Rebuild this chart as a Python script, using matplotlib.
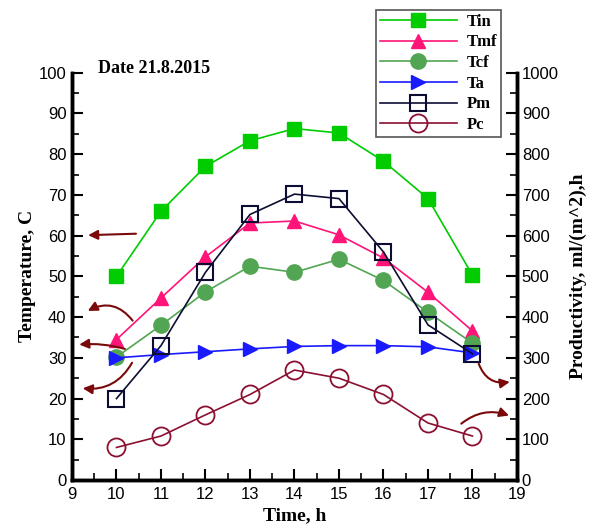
import matplotlib
matplotlib.use("Agg")
import matplotlib.pyplot as plt
from matplotlib.ticker import MultipleLocator

# ----- Daten -----
hours = [10, 11, 12, 13, 14, 15, 16, 17, 18]
t_in = [50, 66, 77, 83.3, 86.3, 85.2, 78.3, 69.1, 50.3]
t_mf = [34.5, 44.7, 54.8, 63.1, 63.6, 60.2, 54.5, 46.1, 36.6]
t_cf = [30.2, 38, 46.2, 52.5, 51, 54.2, 49, 41.2, 33.6]
t_a = [30, 30.8, 31.5, 32.2, 32.8, 33, 33, 32.7, 31.2]
p_m = [200, 330, 510, 652, 702, 691, 560, 381, 310]
p_c = [80, 108, 160, 210, 270, 250, 210, 140, 108]

serif = "Liberation Serif"
sans = "Liberation Sans"
arrow_col = "#7a0a0a"

fig = plt.figure(figsize=(5.93, 5.31), dpi=100)
ax = fig.add_axes([0.1214, 0.096, 0.7504, 0.767])
ax2 = ax.twinx()

# ----- Kurven -----
l1, = ax.plot(hours, t_in, color="#00cc00", marker="s", ms=9.5, lw=1.2, label="Tin")
l2, = ax.plot(hours, t_mf, color="#ff1477", marker="^", ms=10, lw=1.2, label="Tmf")
l3, = ax.plot(hours, t_cf, color="#52a552", marker="o", ms=11, lw=1.2, label="Tcf")
l4, = ax.plot(hours, t_a, color="#1a1aff", marker=">", ms=10, lw=1.2, label="Ta")
l5, = ax2.plot(hours, p_m, color="#0d0d33", marker="s", ms=11, mfc="none",
               mew=1.5, lw=1.2, label="Pm")
l6, = ax2.plot(hours, p_c, color="#8b1030", marker="o", ms=13, mfc="none",
               mew=1.3, lw=1.2, label="Pc")

# ----- Achsen -----
ax.set_xlim(9, 19)
ax.set_ylim(0, 100)
ax2.set_ylim(0, 1000)
ax.xaxis.set_major_locator(MultipleLocator(1))
ax.xaxis.set_minor_locator(MultipleLocator(0.5))
ax.yaxis.set_major_locator(MultipleLocator(10))
ax.yaxis.set_minor_locator(MultipleLocator(5))
ax2.yaxis.set_major_locator(MultipleLocator(100))
ax2.yaxis.set_minor_locator(MultipleLocator(50))

for a in (ax, ax2):
    a.spines["top"].set_visible(False)
    for s in ("left", "right", "bottom"):
        a.spines[s].set_linewidth(2.5)
    a.tick_params(which="major", direction="in", length=8, width=1.5,
                  labelsize=12)
    a.tick_params(which="minor", direction="in", length=5, width=1.2)
    for lab in a.get_xticklabels() + a.get_yticklabels():
        lab.set_fontfamily(sans)
ax.tick_params(axis="x", pad=5)
ax.tick_params(axis="y", pad=4)

ax.set_xlabel("Time, h", fontfamily=serif, fontweight="bold", fontsize=14)
ax.set_ylabel("Temperature, C", fontfamily=serif, fontweight="bold",
              fontsize=14, labelpad=2)
ax2.set_ylabel("Productivity, ml/(m^2),h", fontfamily=serif,
               fontweight="bold", fontsize=14, labelpad=8)

ax.text(0.058, 1.01, "Date 21.8.2015", transform=ax.transAxes,
        fontfamily=serif, fontweight="bold", fontsize=13, va="center")

# ----- Legende -----
leg = fig.legend(handles=[l1, l2, l3, l4, l5, l6],
                 loc="upper left", bbox_to_anchor=(0.634, 0.982),
                 prop={"family": serif, "weight": "bold", "size": 12},
                 handlelength=4.6, labelspacing=0.28, borderpad=0.25,
                 borderaxespad=0, fancybox=False, framealpha=1,
                 edgecolor="#555555", handletextpad=0.6)
leg.get_frame().set_linewidth(1.2)

# ----- Pfeile -----
def arrow(xy, xytext, rad):
    ax.annotate("", xy=xy, xytext=xytext,
                arrowprops=dict(arrowstyle="-|>", color=arrow_col, lw=1.5,
                                mutation_scale=14,
                                connectionstyle=f"arc3,rad={rad}"),
                annotation_clip=False)

arrow((9.3, 60.1), (10.5, 60.5), 0.0)
arrow((9.3, 41.2), (10.4, 38.6), 0.45)
arrow((9.1, 33.2), (10.25, 32.0), 0.1)
arrow((9.18, 22.6), (10.38, 29.4), -0.35)
arrow((18.9, 24.2), (18.12, 29.2), 0.45)
arrow((18.88, 15.6), (17.7, 13.4), -0.3)

fig.savefig("out.png", dpi=100)
